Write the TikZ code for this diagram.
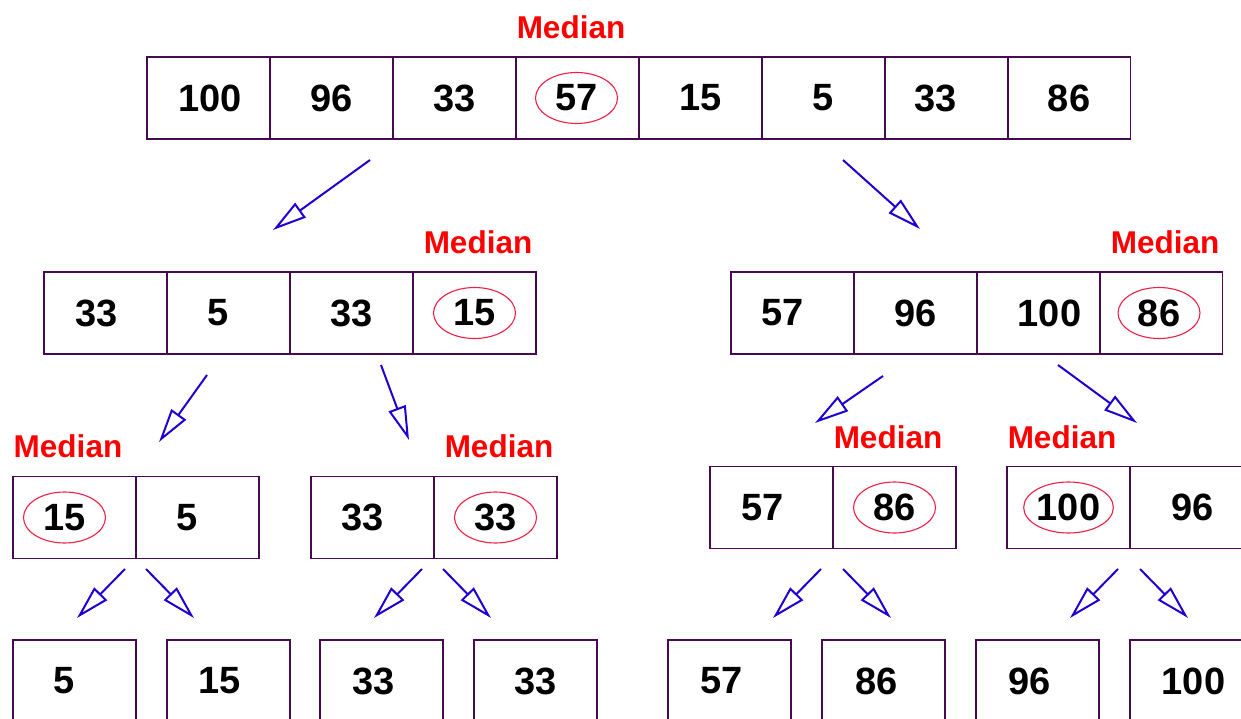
\documentclass[tikz,border=0pt]{standalone}
\usepackage{fontspec}
\setmainfont{Liberation Sans}
\usetikzlibrary{arrows.meta,shapes.geometric}
\definecolor{boxcol}{RGB}{70,10,80}
\definecolor{medred}{RGB}{255,0,0}
\definecolor{ellcol}{RGB}{240,30,70}
\definecolor{arrcol}{RGB}{30,0,210}
\tikzset{
  cell/.style={draw=boxcol, line width=1.6pt, minimum width=123pt, minimum height=82pt, inner sep=0pt},
  num/.style={font=\fontsize{38}{40}\selectfont\bfseries, inner sep=0pt},
  med/.style={ellipse, draw=ellcol, line width=1.1pt, minimum width=82pt, minimum height=51pt, inner sep=0pt},
  medlab/.style={font=\fontsize{31.5}{34}\selectfont\bfseries, text=medred, inner sep=0pt},
  arr/.style={draw=arrcol, line width=2pt, -{Triangle[open, length=34pt, width=18pt]}}
}
\newcommand{\mycell}[5]{%
  \node[cell] (#1) at (#2,#3) {};
  \node[num] (#1t) at ([xshift=#4]#1.center) {#5};}
\newcommand{\mymedcell}[5]{%
  \node[cell] (#1) at (#2,#3) {};
  \node[num, med] (#1t) at ([xshift=#4]#1.center) {#5};}
\begin{document}
\begin{tikzpicture}[x=1pt, y=-1pt]
\useasboundingbox (0,0) rectangle (1241,719);
\clip (0,0) rectangle (1241,719);
% top row
\mycell{a1}{208.5}{98}{1.5}{100}
\mycell{a2}{331.5}{98}{0}{96}
\mycell{a3}{454.5}{98}{0}{33}
\mymedcell{a4}{577.5}{98}{-1}{57}
\mycell{a5}{700.5}{98}{0}{15}
\mycell{a6}{823.5}{98}{0}{5}
\mycell{a7}{946.5}{98}{-11}{33}
\mycell{a8}{1069}{98}{0}{86}
\node[medlab] (m0) at (571,27) {Median};
% second row left
\mycell{b1}{105.5}{313}{-9}{33}
\mycell{b2}{228.5}{313}{-10}{5}
\mycell{b3}{351.5}{313}{0}{33}
\mymedcell{b4}{474.5}{313}{0}{15}
\node[medlab] (m1) at (478,242) {Median};
% second row right
\mycell{c1}{792.5}{313}{-10}{57}
\mycell{c2}{915.5}{313}{0}{96}
\mycell{c3}{1038.5}{313}{11}{100}
\mymedcell{c4}{1161}{313}{-2}{86}
\node[medlab] (m2) at (1165,242) {Median};
% third row
\mymedcell{d1}{74.5}{517.5}{-10}{15}
\mycell{d2}{197.5}{517.5}{-10}{5}
\node[medlab] (m3) at (68,446) {Median};
\mycell{e1}{372.5}{517.5}{-10}{33}
\mymedcell{e2}{495.5}{517.5}{0}{33}
\node[medlab] (m4) at (499,446) {Median};
\mycell{f1}{771.5}{507.5}{-9}{57}
\mymedcell{f2}{894.5}{507.5}{0}{86}
\node[medlab] (m5) at (888,437) {Median};
\mymedcell{g1}{1068.5}{507.5}{0}{100}
\mycell{g2}{1191.5}{507.5}{1}{96}
\node[medlab] (m6) at (1062,437) {Median};
% bottom row
\mycell{h1}{74.5}{681}{-10}{5}
\mycell{h2}{228.5}{681}{-9}{15}
\mycell{h3}{381.5}{681}{-8}{33}
\mycell{h4}{535.5}{681}{0}{33}
\mycell{h5}{729.5}{681}{-8}{57}
\mycell{h6}{883.5}{681}{-7}{86}
\mycell{h7}{1037.5}{681}{-8}{96}
\mycell{h8}{1191.5}{681}{2}{100}
% arrow end points
\coordinate (p1s) at (370,160); \coordinate (p1e) at (273,230);
\coordinate (p2s) at (843,160); \coordinate (p2e) at (920,229);
\coordinate (p3s) at (207,375); \coordinate (p3e) at (159,442);
\coordinate (p4s) at (381,365); \coordinate (p4e) at (409,440);
\coordinate (p5s) at (883,376); \coordinate (p5e) at (815,423);
\coordinate (p6s) at (1058,365); \coordinate (p6e) at (1137,423);
\coordinate (q1s) at (125,569); \coordinate (q1e) at (77,618);
\coordinate (q2s) at (146,569); \coordinate (q2e) at (194,618);
\coordinate (q3s) at (422,569); \coordinate (q3e) at (374,618);
\coordinate (q4s) at (443,569); \coordinate (q4e) at (491,618);
\coordinate (q5s) at (821,569); \coordinate (q5e) at (773,618);
\coordinate (q6s) at (843,569); \coordinate (q6e) at (891,618);
\coordinate (q7s) at (1118,569); \coordinate (q7e) at (1070,618);
\coordinate (q8s) at (1140,569); \coordinate (q8e) at (1188,618);
\foreach \p in {p1,p2,p3,p4,p5,p6,q1,q2,q3,q4,q5,q6,q7,q8}
  \draw[arr] (\p s) -- (\p e);
\end{tikzpicture}
\end{document}
